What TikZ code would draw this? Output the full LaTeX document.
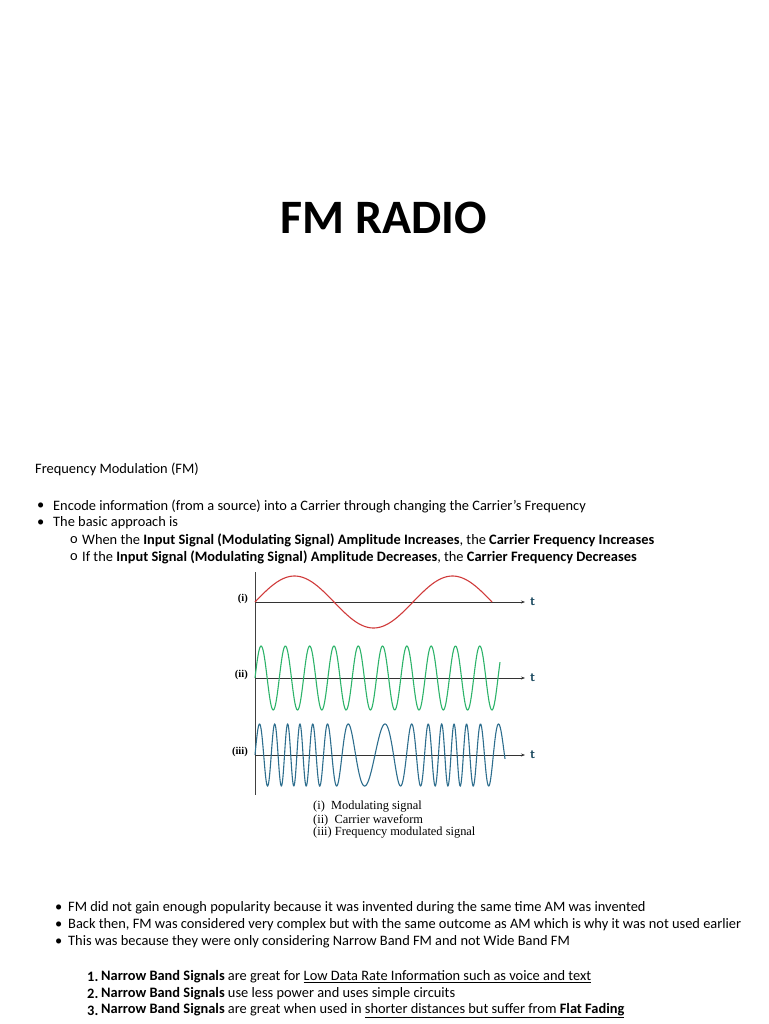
\documentclass[tikz,border=0pt]{standalone}
\usepackage{fontspec}
\setmainfont{Carlito}
\newfontfamily\figfont{Liberation Serif}
\usetikzlibrary{arrows.meta}
\definecolor{redw}{HTML}{D03A3A}
\definecolor{greenw}{HTML}{2DB36A}
\definecolor{bluew}{HTML}{2E6E8E}
\begin{document}
\begin{tikzpicture}[x=1pt,y=-1pt,
  txt/.style={anchor=west,inner sep=0pt,font=\fontsize{14.4}{16}\selectfont},
  lab/.style={anchor=west,inner sep=0pt,font=\figfont\fontsize{12.4}{14}\selectfont},
  tl/.style={anchor=west,inner sep=0pt,font=\sffamily\bfseries\fontsize{13}{14}\selectfont,text=bluew!70!black},
  wave/.style={line width=1.1pt,smooth}]
\useasboundingbox (0,0) rectangle (768,1024);
\node[font=\bfseries\fontsize{48}{54}\selectfont,inner sep=0pt] (title) at (384,218) {FM RADIO};
\node[txt] (h) at (35,469) {Frequency Modulation (FM)};
\node[txt] (b1) at (37,506) {•};
\node[txt] (t1) at (53,506) {Encode information (from a source) into a Carrier through changing the Carrier’s Frequency};
\node[txt] (b2) at (37,523) {•};
\node[txt] (t2) at (53,523) {The basic approach is};
\node[txt] (s1) at (70,540) {o};
\node[txt] (u1) at (82,540) {When the \textbf{Input Signal (Modulating Signal) Amplitude Increases}, the \textbf{Carrier Frequency Increases}};
\node[txt] (s2) at (70,557) {o};
\node[txt] (u2) at (82,557) {If the \textbf{Input Signal (Modulating Signal) Amplitude Decreases}, the \textbf{Carrier Frequency Decreases}};
% plot
\coordinate (vtop) at (255,572);
\coordinate (vbot) at (255,795);
\draw[line width=0.9pt,black!75] (vtop) -- (vbot);
\foreach \yy/\nm/\lb in {602/a/(i),678/b/(ii),755/c/(iii)}{
  \coordinate (s\nm) at (255,\yy);
  \coordinate (e\nm) at (525,\yy);
  \draw[line width=0.9pt,black!80,-{Stealth[length=4pt]}] (s\nm) -- (e\nm);
  \node[tl] (t\nm) at (530,\yy) {t};
  \node[lab,anchor=east,font=\figfont\fontsize{10.5}{12}\selectfont] (l\nm) at (248,\yy-3) {\textbf{\lb}};
}
\draw[wave,redw,samples=120,domain=0:237] plot ({255+\x},{602-26*sin(\x/158*360)});
\draw[wave,greenw,samples=400,domain=0:245] plot ({255+\x},{678-32*sin(\x/24.3*360)});
\draw[wave,bluew,samples=700,domain=0:250] plot ({255+\x},{755-31*sin(18.95*\x+262*(1-cos(\x/158*360)))});
\node[lab] (c1) at (313,807) {(i)\enspace Modulating signal};
\node[lab] (c2) at (313,820) {(ii)\enspace Carrier waveform};
\node[lab] (c3) at (313,833) {(iii) Frequency modulated signal};
% lower bullets
\node[txt] (d1) at (55,908) {•};
\node[txt] (e1) at (68,908) {FM did not gain enough popularity because it was invented during the same time AM was invented};
\node[txt] (d2) at (55,925) {•};
\node[txt] (e2) at (68,925) {Back then, FM was considered very complex but with the same outcome as AM which is why it was not used earlier};
\node[txt] (d3) at (55,942) {•};
\node[txt] (e3) at (68,942) {This was because they were only considering Narrow Band FM and not Wide Band FM};
\node[txt] (n1) at (87,977) {\textbf{1.}};
\node[txt] (m1) at (101,977) {\textbf{Narrow Band Signals} are great for \underline{Low Data Rate Information such as voice and text}};
\node[txt] (n2) at (87,994) {\textbf{2.}};
\node[txt] (m2) at (101,994) {\textbf{Narrow Band Signals} use less power and uses simple circuits};
\node[txt] (n3) at (87,1011) {\textbf{3.}};
\node[txt] (m3) at (101,1011) {\textbf{Narrow Band Signals} are great when used in \underline{shorter distances but suffer from \textbf{Flat Fading}}};
\end{tikzpicture}
\end{document}
